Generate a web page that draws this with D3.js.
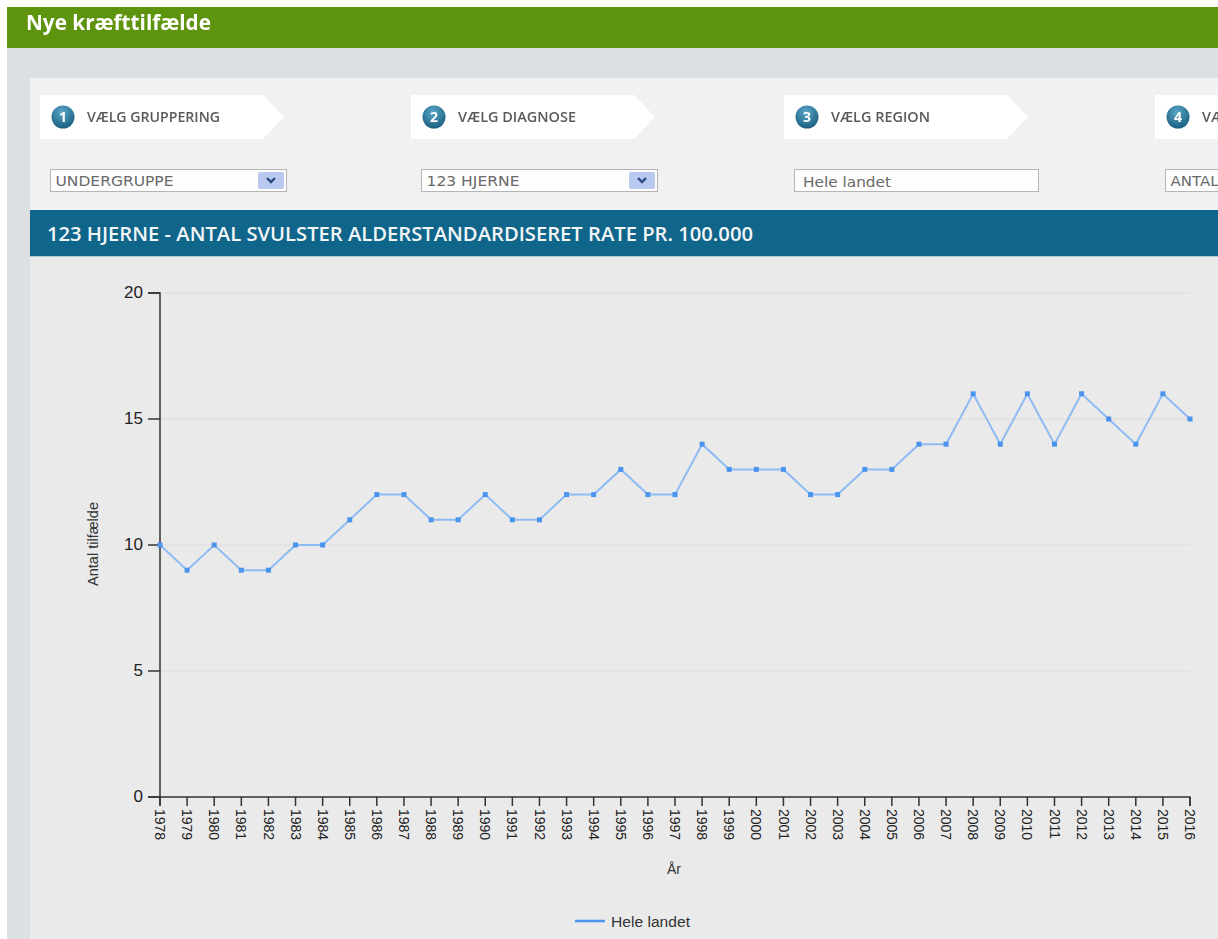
<!DOCTYPE html>
<html lang="da">
<head>
    <meta charset="UTF-8">
    <title>Nye kræfttilfælde</title>
    <script src="https://d3js.org/d3.v7.min.js"></script>
    <style>
        html, body { margin: 0; padding: 0; background: #fff; overflow: hidden; }
        svg { display: block; filter: blur(0.35px); }
        text { font-family: "Liberation Sans", sans-serif; }
        .ui text { font-family: "Open Sans", sans-serif; }
        .axis path, .axis line { fill: none; stroke: #333; stroke-width: 1.5; }
    </style>
</head>
<body>
    <svg width="1218" height="939"></svg>
    <script>
        const years = ["1978","1979","1980","1981","1982","1983","1984","1985","1986","1987","1988","1989","1990",
            "1991","1992","1993","1994","1995","1996","1997","1998","1999","2000","2001","2002","2003","2004",
            "2005","2006","2007","2008","2009","2010","2011","2012","2013","2014","2015","2016"];
        const heleLandet = [10,9,10,9,9,10,10,11,12,12,11,11,12,11,11,12,12,13,12,12,14,13,13,13,12,12,13,13,14,14,16,14,16,14,16,15,14,16,15];
        const yTicks = [0, 5, 10, 15, 20];
        const steps = ["VÆLG GRUPPERING", "VÆLG DIAGNOSE", "VÆLG REGION", "VÆLG"];
        const stepX = [40, 411, 784, 1155];
        const selects = ["UNDERGRUPPE", "123 HJERNE", "Hele landet", "ANTAL"];
        const selectX = [50, 421, 794, 1165];

        const svg = d3.select("svg");
        const ui = svg.append("g").attr("class", "ui");

        // page background
        ui.append("rect").attr("x", 7).attr("y", 7).attr("width", 1211).attr("height", 932).attr("fill", "#dde0e2");
        ui.append("rect").attr("x", 7).attr("y", 7).attr("width", 1211).attr("height", 41).attr("fill", "#5e930d");
        ui.append("text").attr("x", 26).attr("y", 30).attr("fill", "#fff")
            .attr("font-size", 22).attr("font-weight", 700).attr("textLength", 185).attr("lengthAdjust", "spacingAndGlyphs")
            .text("Nye kræfttilfælde");

        ui.append("rect").attr("x", 30).attr("y", 78).attr("width", 1188).attr("height", 132).attr("fill", "#f0f1f3");

        // gradient for the numbered balls
        const grad = svg.append("defs").append("radialGradient").attr("id", "ball")
            .attr("cx", "45%").attr("cy", "30%").attr("r", "75%");
        grad.append("stop").attr("offset", "0%").attr("stop-color", "#5aa8c8");
        grad.append("stop").attr("offset", "100%").attr("stop-color", "#15597a");

        // step tabs
        const step = ui.selectAll(".step").data(steps).enter().append("g")
            .attr("class", "step")
            .attr("transform", (d, i) => `translate(${stepX[i]},95)`);
        step.append("path").attr("d", "M0,0H223L244,22L223,44H0Z").attr("fill", "#fff");
        step.append("circle").attr("cx", 23).attr("cy", 22).attr("r", 11.5).attr("fill", "url(#ball)");
        step.append("text").attr("x", 23).attr("y", 27).attr("text-anchor", "middle")
            .attr("fill", "#fff").attr("font-size", 14).attr("font-weight", 700).text((d, i) => i + 1);
        step.append("text").attr("x", 47).attr("y", 27).attr("fill", "#5a5a5a")
            .attr("font-size", 14).attr("font-weight", 600)
            .attr("textLength", (d, i) => [133, 118, 99, 40][i]).attr("lengthAdjust", "spacingAndGlyphs")
            .text(d => d);

        // select boxes
        const boxWidth = d => d === "Hele landet" ? 244 : 236;
        const sel = ui.selectAll(".sel").data(selects).enter().append("g")
            .attr("class", "sel")
            .attr("transform", (d, i) => `translate(${selectX[i]},169)`);
        sel.append("rect").attr("x", 0.5).attr("y", 0.5).attr("width", boxWidth).attr("height", 22)
            .attr("fill", "#fdfdfd").attr("stroke", "#b5b5b5");
        sel.append("text").attr("x", d => d === "Hele landet" ? 9 : 5.5).attr("y", d => d === "Hele landet" ? 18 : 17)
            .attr("fill", "#6a6a6a").attr("font-size", 14)
            .style("font-family", "'DejaVu Sans', sans-serif")
            .attr("textLength", d => ({"UNDERGRUPPE": 118, "123 HJERNE": 93, "Hele landet": 88, "ANTAL": 48})[d])
            .attr("lengthAdjust", "spacingAndGlyphs")
            .text(d => d);
        const btn = sel.filter(d => d === "UNDERGRUPPE" || d === "123 HJERNE").append("g");
        btn.append("rect").attr("x", 208).attr("y", 3).attr("width", 26).attr("height", 17).attr("rx", 2).attr("fill", "#b9c9ef");
        btn.append("path").attr("d", "M217,9L221,13L225,9").attr("fill", "none").attr("stroke", "#2c4a80").attr("stroke-width", 2.4);

        // title bar
        ui.append("rect").attr("x", 30).attr("y", 210).attr("width", 1188).attr("height", 46.5).attr("fill", "#10658a");
        ui.append("text").attr("x", 47).attr("y", 241).attr("fill", "#f2f6f8")
            .attr("font-size", 19).attr("font-weight", 600)
            .attr("textLength", 706).attr("lengthAdjust", "spacingAndGlyphs")
            .text("123 HJERNE - ANTAL SVULSTER ALDERSTANDARDISERET RATE PR. 100.000");

        // chart area
        ui.append("rect").attr("x", 30).attr("y", 256.5).attr("width", 1188).attr("height", 683).attr("fill", "#eaeaea");

        const margin = {top: 293, right: 28, bottom: 142, left: 160},
            width = 1218 - margin.left - margin.right,
            height = 939 - margin.top - margin.bottom,
            g = svg.append("g").attr("transform", `translate(${margin.left},${margin.top})`);

        const x = d3.scalePoint().domain(years).range([0, width]);
        const y = d3.scaleLinear().domain([0, 20]).range([height, 0]);

        // gridlines
        g.selectAll(".grid").data(yTicks.filter(d => d > 0)).enter().append("line")
            .attr("class", "grid")
            .attr("x1", 0).attr("x2", width)
            .attr("y1", d => y(d)).attr("y2", d => y(d))
            .attr("stroke", "#e0e0e0").attr("stroke-width", 1.5);

        g.append("g")
            .attr("class", "axis")
            .attr("transform", `translate(0,${height})`)
            .call(d3.axisBottom(x).offset(0).tickSizeOuter(0).tickSize(9))
            .call(a => a.selectAll("text")
                .attr("font-size", 14).attr("fill", "#222")
                .attr("transform", "rotate(90)")
                .attr("x", 12).attr("y", 0).attr("dy", "0.35em")
                .attr("text-anchor", "start"));

        g.append("g")
            .attr("class", "axis")
            .call(d3.axisLeft(y).offset(0).tickValues(yTicks).tickSizeOuter(0).tickSize(12).tickPadding(5))
            .call(a => a.selectAll("text")
                .attr("font-size", 17).attr("fill", "#222"));

        // axis titles
        g.append("text")
            .attr("transform", `translate(${93 - margin.left},${544 - margin.top}) rotate(-90)`)
            .attr("text-anchor", "middle").attr("dy", "0.35em")
            .attr("font-size", 14).attr("fill", "#333")
            .attr("textLength", 84).attr("lengthAdjust", "spacingAndGlyphs")
            .text("Antal tilfælde");
        g.append("text")
            .attr("x", 674 - margin.left).attr("y", 874 - margin.top)
            .attr("text-anchor", "middle")
            .attr("font-size", 14).attr("fill", "#333")
            .text("År");

        // series
        const line = d3.line().x((d, i) => x(years[i])).y(d => y(d));
        g.append("path").datum(heleLandet)
            .attr("d", line)
            .attr("fill", "none").attr("stroke", "#8dbbf3").attr("stroke-width", 2);
        g.selectAll(".pt").data(heleLandet).enter().append("rect")
            .attr("class", "pt")
            .attr("x", (d, i) => x(years[i]) - 2.5).attr("y", d => y(d) - 2.5)
            .attr("width", 5).attr("height", 5).attr("fill", "#4a94ee");

        // legend
        const legend = svg.append("g").attr("transform", "translate(575,921)");
        legend.append("line").attr("x1", 0).attr("x2", 30).attr("stroke", "#4f94ea").attr("stroke-width", 2.5);
        legend.append("text").attr("x", 36).attr("y", 6).attr("font-size", 14).attr("fill", "#333")
            .attr("textLength", 79).attr("lengthAdjust", "spacingAndGlyphs").text("Hele landet");
    </script>
</body>
</html>
